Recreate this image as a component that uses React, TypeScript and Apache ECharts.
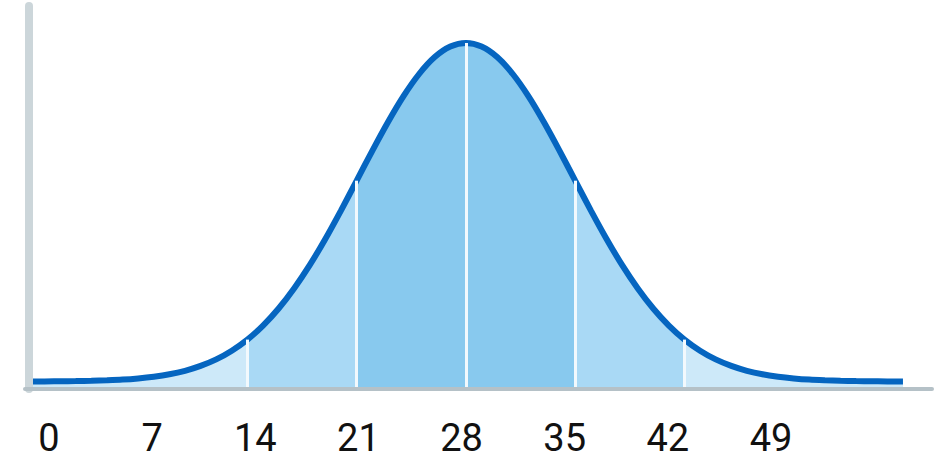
import React, { useEffect, useRef } from "react";
import * as echarts from "echarts";

// x positions of the curve samples (data units)
const xValues = [
  0, 1, 2, 3, 4, 5, 6, 7, 8, 9, 10, 11, 12, 13, 14, 15, 16, 17, 18, 19, 20,
  21, 22, 23, 24, 25, 26, 27, 28, 29, 30, 31, 32, 33, 34, 35, 36, 37, 38, 39,
  40, 41, 42, 43, 44, 45, 46, 47, 48, 49, 50, 51, 52, 53, 54, 55, 56,
];
// curve heights
const density = [
  7.6, 7.6, 7.8, 7.9, 8.2, 8.7, 9.4, 10.6, 12.3, 14.7, 18.2, 23.1, 29.6, 38.3,
  49.4, 63.4, 80.5, 100.8, 124.1, 150.3, 178.7, 208.3, 238.2, 266.8, 292.9,
  315.0, 331.9, 342.4, 346.0, 342.4, 331.9, 315.0, 292.9, 266.8, 238.2, 208.3,
  178.7, 150.3, 124.1, 100.8, 80.5, 63.4, 49.4, 38.3, 29.6, 23.1, 18.2, 14.7,
  12.3, 10.6, 9.4, 8.7, 8.2, 7.9, 7.8, 7.6, 7.6,
];
// shaded bands (edges in data units) and their colours
const bandEdges = [0, 14, 21, 28, 35, 42, 56];
const bandColors = ["#cde9f9", "#a9d9f5", "#88c9ee", "#88c9ee", "#a9d9f5", "#cde9f9"];
const separators = [14, 21, 28, 35, 42];
// tick labels
const tickLabels = [0, 7, 14, 21, 28, 35, 42, 49];

export default function App() {
  const ref = useRef<HTMLDivElement>(null);
  useEffect(() => {
    if (!ref.current) return;
    const chart = echarts.init(ref.current, null, { renderer: "svg" });
    const points = xValues.map((x, i) => [x, density[i]]);
    const bandSeries = bandColors.map((color, b) => {
      const lo = bandEdges[b];
      const hi = bandEdges[b + 1];
      const s: any = {
        type: "line",
        xAxisIndex: 0,
        yAxisIndex: 0,
        data: points.filter((p) => p[0] >= lo && p[0] <= hi),
        smooth: 0.3,
        symbol: "none",
        lineStyle: { width: 0 },
        areaStyle: { color, opacity: 1 },
        z: 2,
        silent: true,
      };
      if (b === 0) {
        s.markLine = {
          silent: true,
          symbol: ["none", "none"],
          label: { show: false },
          lineStyle: { color: "#f2f9fd", width: 3, type: "solid" },
          data: separators.map((v) => [
            { coord: [v, 0] },
            { coord: [v, density[xValues.indexOf(v)]] },
          ]),
        };
      }
      return s;
    });
    chart.setOption({
      animation: false,
      backgroundColor: "#ffffff",
      grid: [
        { left: 25, width: 907, top: 6, bottom: 71 },
        { left: 49, width: 722, top: 6, bottom: 71 },
      ],
      xAxis: [
        {
          type: "value",
          gridIndex: 0,
          min: -0.25,
          max: 57.86,
          z: 10,
          axisLine: { show: true, lineStyle: { color: "#b5c1c7", width: 4 } },
          axisTick: { show: false },
          axisLabel: { show: false },
          splitLine: { show: false },
        },
        {
          type: "value",
          gridIndex: 1,
          min: 0,
          max: 49,
          interval: 7,
          axisLine: { show: false },
          axisTick: { show: false },
          splitLine: { show: false },
          axisLabel: {
            show: true,
            fontSize: 38,
            lineHeight: 30,
            fontFamily: "Roboto",
            color: "#111111",
            margin: 34,
            customValues: tickLabels,
          },
        },
      ],
      yAxis: [
        {
          type: "value",
          gridIndex: 0,
          min: 0,
          max: 383,
          z: 10,
          axisLine: { show: true, lineStyle: { color: "#ccd6da", width: 8 } },
          axisTick: { show: false },
          axisLabel: { show: false },
          splitLine: { show: false },
        },
        {
          type: "value",
          gridIndex: 1,
          show: false,
        },
      ],
      series: [
        ...bandSeries,
        {
          type: "line",
          xAxisIndex: 0,
          yAxisIndex: 0,
          data: points,
          smooth: 0.3,
          symbol: "none",
          lineStyle: { color: "#0565c0", width: 6 },
          z: 4,
          silent: true,
        },
      ],
    });
    return () => chart.dispose();
  }, []);
  return (
    <div
      ref={ref}
      style={{ position: "fixed", left: 0, top: 0, width: 941, height: 460 }}
    />
  );
}
